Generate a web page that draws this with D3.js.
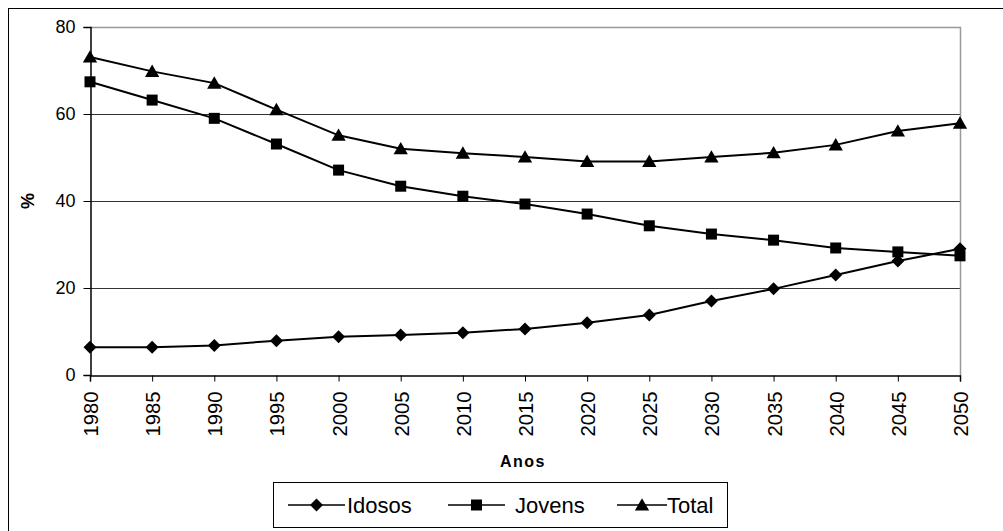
<!DOCTYPE html>
<html>
<head>
<meta charset="utf-8">
<script src="https://cdn.jsdelivr.net/npm/d3@7"></script>
<style>
  html, body { margin: 0; padding: 0; background: #fff; }
  svg { display: block; font-family: "Liberation Sans", Arial, sans-serif; }
</style>
</head>
<body>
<svg id="chart" width="1003" height="531"></svg>
<script>
// Dependency ratios (%) by year
const years   = [1980, 1985, 1990, 1995, 2000, 2005, 2010, 2015, 2020, 2025, 2030, 2035, 2040, 2045, 2050];
const idosos  = [6.4, 6.4, 6.8, 7.9, 8.8, 9.2, 9.7, 10.6, 12.0, 13.8, 17.0, 19.8, 23.0, 26.2, 29.0];
const jovens  = [67.4, 63.2, 59.0, 53.1, 47.1, 43.4, 41.1, 39.3, 37.0, 34.3, 32.4, 31.0, 29.2, 28.3, 27.4];
const total   = [73.1, 69.8, 67.1, 61.0, 55.1, 52.0, 51.0, 50.1, 49.1, 49.1, 50.1, 51.1, 52.9, 56.1, 57.9];
const yTicks  = [0, 20, 40, 60, 80];
const seriesNames = ["Idosos", "Jovens", "Total"];
const seriesSymbols = ["diamond", "square", "triangle"];

const svg = d3.select("#chart");
const m = { left: 90, right: 960, top: 27, bottom: 375 };

const x = d3.scaleLinear().domain([1980, 2050]).range([m.left, m.right]);
const y = d3.scaleLinear().domain([0, 80]).range([m.bottom, m.top]);

// outer frame (runs off the right and bottom edges)
svg.append("rect")
  .attr("x", 8.5).attr("y", 8.5).attr("width", 1010).attr("height", 540)
  .attr("fill", "none").attr("stroke", "#000").attr("stroke-width", 1);

// horizontal gridlines
svg.append("g").selectAll("line")
  .data(yTicks.filter(t => t > 0 && t < 80))
  .join("line")
  .attr("x1", m.left).attr("x2", m.right)
  .attr("y1", d => Math.round(y(d)) + 0.5).attr("y2", d => Math.round(y(d)) + 0.5)
  .attr("stroke", "#333").attr("stroke-width", 1);

// plot area border (top and right)
svg.append("path")
  .attr("d", `M${m.left},${m.top + 0.5}H${m.right + 0.5}V${m.bottom}`)
  .attr("fill", "none").attr("stroke", "#999").attr("stroke-width", 1.5);

// y axis
const yAxis = svg.append("g")
  .attr("transform", `translate(${m.left + 0.5},0)`)
  .call(d3.axisLeft(y).tickValues(yTicks).tickSize(7).tickPadding(8).tickFormat(d3.format("d")));
yAxis.select(".domain").attr("stroke", "#000").attr("stroke-width", 1.5);
yAxis.selectAll(".tick line").attr("stroke", "#000");
yAxis.selectAll("text").attr("font-size", 18).attr("fill", "#000")
  .attr("font-family", "Liberation Sans, Arial, sans-serif");

// x axis with vertical year labels
const xAxis = svg.append("g")
  .attr("transform", `translate(0,${m.bottom + 0.5})`)
  .call(d3.axisBottom(x).tickValues(years).tickSize(6).tickFormat(d3.format("d")));
xAxis.select(".domain").attr("stroke", "#000").attr("stroke-width", 1.5);
xAxis.selectAll(".tick line").attr("stroke", "#000");
xAxis.selectAll("text")
  .attr("font-size", 21).attr("fill", "#000")
  .attr("font-family", "Liberation Sans, Arial, sans-serif")
  .attr("transform", "rotate(-90)")
  .attr("text-anchor", "end")
  .attr("textLength", 45).attr("lengthAdjust", "spacingAndGlyphs")
  .attr("x", -16).attr("y", 0).attr("dy", "0.36em");

// axis titles
svg.append("text")
  .attr("x", 523).attr("y", 467)
  .attr("text-anchor", "middle").attr("font-size", 16).attr("font-weight", "bold")
  .attr("letter-spacing", 1.5)
  .text("Anos");
svg.append("text")
  .attr("transform", "translate(34,201) rotate(-90)")
  .attr("text-anchor", "middle").attr("font-size", 18).attr("font-weight", "bold")
  .text("%");

// marker shapes
const symbolPath = {
  diamond: s => `M0,${-s}L${s},0L0,${s}L${-s},0Z`,
  square: s => `M${-s},${-s}H${s}V${s}H${-s}Z`,
  triangle: s => `M0,${-s * 1.05}L${s * 1.1},${s * 0.85}L${-s * 1.1},${s * 0.85}Z`
};
const symbolSize = { diamond: 6.5, square: 5.5, triangle: 6.5 };

const allSeries = [idosos, jovens, total];
const line = d3.line().x((d, i) => x(years[i])).y(d => y(d));

allSeries.forEach((vals, si) => {
  const sym = seriesSymbols[si];
  svg.append("path")
    .datum(vals)
    .attr("d", line)
    .attr("fill", "none").attr("stroke", "#000").attr("stroke-width", 2);
  svg.append("g").selectAll("path")
    .data(vals)
    .join("path")
    .attr("transform", (d, i) => `translate(${x(years[i])},${y(d)})`)
    .attr("d", symbolPath[sym](symbolSize[sym]))
    .attr("fill", "#000");
});

// legend
const lg = svg.append("g");
lg.append("rect")
  .attr("x", 273.5).attr("y", 482.5).attr("width", 454).attr("height", 45)
  .attr("fill", "#fff").attr("stroke", "#000").attr("stroke-width", 1);
const legendX = [288, 448, 617];
const legendLineLen = [57, 57, 50];
const legendTextX = [59, 67, 50];
seriesNames.forEach((name, i) => {
  const sym = seriesSymbols[i];
  const g = lg.append("g").attr("transform", `translate(${legendX[i]},505)`);
  g.append("line").attr("x1", 0).attr("x2", legendLineLen[i]).attr("y1", 0).attr("y2", 0)
    .attr("stroke", "#000").attr("stroke-width", 1.5);
  g.append("path").attr("transform", `translate(${legendLineLen[i] / 2},0)`)
    .attr("d", symbolPath[sym](symbolSize[sym])).attr("fill", "#000");
  g.append("text").attr("x", legendTextX[i]).attr("y", 0).attr("dy", "0.36em")
    .attr("font-size", 22).text(name);
});
</script>
</body>
</html>
